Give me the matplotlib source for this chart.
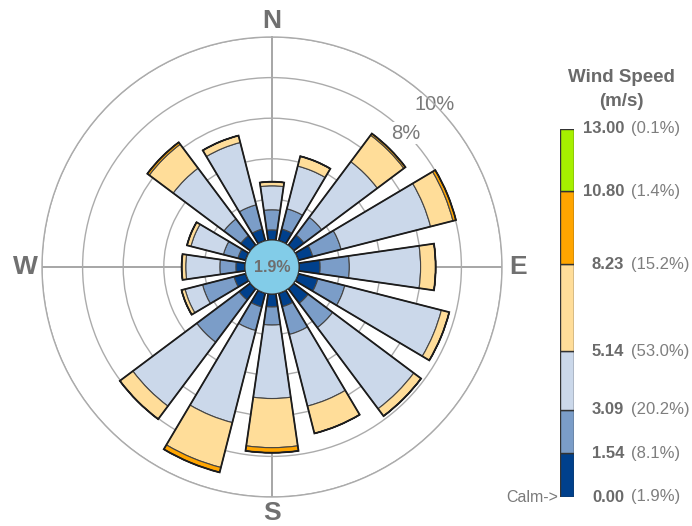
import numpy as np
import matplotlib
matplotlib.use("Agg")
import matplotlib.pyplot as plt
from matplotlib.patches import Circle
from matplotlib.transforms import blended_transform_factory

plt.rcParams['font.family'] = ['Liberation Sans', 'DejaVu Sans']

# frequency (%) per direction, one list per speed class
directions = ['N', 'NNE', 'NE', 'ENE', 'E', 'ESE', 'SE', 'SSE',
              'S', 'SSW', 'SW', 'WSW', 'W', 'WNW', 'NW', 'NNW']
f_0_154 = [0.50, 0.60, 0.64, 0.74, 1.04, 1.00, 0.90, 0.69,
           0.64, 0.70, 0.70, 0.60, 0.45, 0.40, 0.60, 0.60]
f_154_309 = [0.99, 1.03, 1.09, 1.44, 1.44, 1.37, 1.50, 1.41,
             0.89, 1.20, 2.60, 1.60, 0.79, 0.74, 1.03, 1.23]
f_309_514 = [1.18, 2.17, 3.42, 4.55, 3.51, 4.91, 4.99, 3.64,
             3.62, 4.68, 3.93, 0.89, 1.68, 1.65, 3.12, 3.17]
f_514_823 = [0.20, 0.50, 1.63, 1.14, 0.74, 0.40, 0.45, 1.39,
             2.42, 2.28, 0.80, 0.18, 0.20, 0.20, 1.47, 0.35]
f_823_1080 = [0.00, 0.00, 0.10, 0.15, 0.00, 0.00, 0.00, 0.00,
              0.25, 0.25, 0.00, 0.00, 0.00, 0.00, 0.12, 0.00]
f_1080_1300 = [0.0] * 16

calm_pct = 1.9
speed_edges = [0.00, 1.54, 3.09, 5.14, 8.23, 10.80, 13.00]
class_pct = [1.9, 8.1, 20.2, 53.0, 15.2, 1.4, 0.1]   # calm, then each class
class_colors = ['#00408c', '#7b9dc8', '#cbd8ea', '#ffdd99', '#ffa500', '#a6f000']
calm_color = '#82cce8'
rings = [2, 4, 6, 8, 10]

series = [f_0_154, f_154_309, f_309_514, f_514_823, f_823_1080, f_1080_1300]

fig = plt.figure(figsize=(6.92, 5.26), dpi=100)
ax = fig.add_axes([42 / 692, 29 / 526, 460 / 692, 460 / 526], projection='polar')
ax.set_theta_zero_location('N')
ax.set_theta_direction(-1)
calm_r = 1.33
ax.set_rorigin(-calm_r)
ax.set_ylim(0, 10)

ax.set_rgrids(rings, labels=[''] * len(rings))
ax.set_xticks(np.deg2rad([0, 90, 180, 270]))
ax.set_xticklabels([])
ax.grid(True, color='#ababab', lw=1.0)
ax.xaxis.grid(True, color='#8e8e8e', lw=1.1)
ax.set_axisbelow(True)
ax.spines['polar'].set_color('#ababab')
ax.spines['polar'].set_linewidth(1.0)
for s in ('inner', 'start', 'end'):
    if s in ax.spines:
        ax.spines[s].set_visible(False)

theta = np.deg2rad(np.arange(len(directions)) * 22.5)
width = np.deg2rad(16.4)

bottom = np.zeros(len(directions))
for vals, col in zip(series, class_colors):
    vals = np.array(vals)
    ax.bar(theta, vals, width=width, bottom=bottom, color=col,
           edgecolor='#444444', lw=0.8, zorder=3)
    bottom = bottom + vals
ax.bar(theta, bottom, width=width, bottom=0, fill=False,
       edgecolor='#1c1c1c', lw=1.3, zorder=4)

# calm circle in the middle
rad = 0.5 * calm_r / (10 + calm_r)
ax.add_patch(Circle((0.5, 0.5), rad, transform=ax.transAxes, facecolor=calm_color,
                    edgecolor='#3c3c3c', lw=0.8, clip_on=False, zorder=5))
ax.text(0.5, 0.5, f'{calm_pct:.1f}%', transform=ax.transAxes, ha='center',
        va='center', fontsize=11.5, fontweight='bold', color='#6e6e6e', zorder=6)

for ang, lab in zip([0, 90, 180, 270], ['N', 'E', 'S', 'W']):
    ax.text(np.deg2rad(ang), 10.8, lab, ha='center', va='center', fontsize=19,
            fontweight='bold', color='#707070', clip_on=False)

for r in (8, 10):
    ax.text(np.deg2rad(45), r, f'{r}%', ha='center', va='center', fontsize=14.5,
            color='#7a7a7a', zorder=2,
            bbox=dict(facecolor='white', edgecolor='none', pad=1))

# speed legend
lax = fig.add_axes([560 / 692, 29 / 526, 14 / 692, 368 / 526])
heights = np.diff(speed_edges)
lax.bar(0, heights, bottom=speed_edges[:-1], width=1, color=class_colors,
        edgecolor='#333333', lw=1)
lax.set_xlim(-0.5, 0.5)
lax.set_ylim(0, 13)
lax.axis('off')

tr = blended_transform_factory(fig.transFigure, lax.transData)
for v, p in zip(speed_edges, class_pct):
    lax.text(624 / 692, v, f'{v:.2f}', transform=tr, ha='right', va='center',
             fontsize=12, fontweight='bold', color='#6a6a6a', clip_on=False)
    lax.text(631 / 692, v, f'({p:.1f}%)', transform=tr, ha='left', va='center',
             fontsize=12, color='#7e7e7e', clip_on=False)
lax.text(558 / 692, 0, 'Calm->', transform=tr, ha='right', va='center',
         fontsize=11.5, color='#7a7a7a', clip_on=False)

fig.text(621 / 692, 1 - 78 / 526, 'Wind Speed', ha='center', va='center',
         fontsize=13.5, fontweight='bold', color='#6a6a6a')
fig.text(621 / 692, 1 - 102 / 526, '(m/s)', ha='center', va='center',
         fontsize=13.5, fontweight='bold', color='#6a6a6a')

fig.savefig('out.png', dpi=100)
